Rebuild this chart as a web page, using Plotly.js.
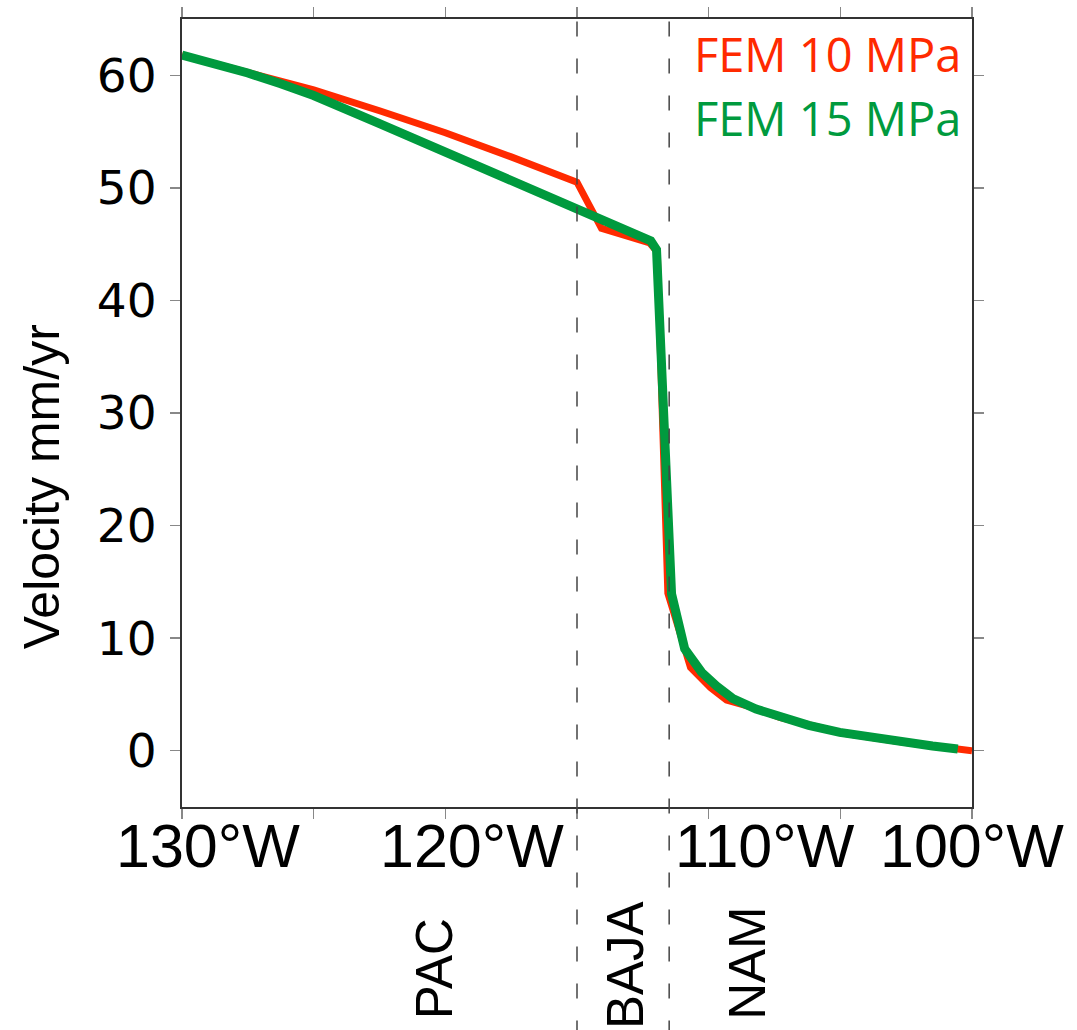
<!DOCTYPE html>
<html>
<head>
<meta charset="utf-8">
<script src="https://cdn.plot.ly/plotly-3.0.1.min.js"></script>
<style>html,body{margin:0;padding:0;background:#fff;}</style>
</head>
<body>
<div id="chart" style="width:1077px;height:1030px;"></div>
<script>
// Longitude (negative = west) and velocity (mm/yr)
const fem10Lon = [-130, -127.5, -125, -122.5, -120, -117.5, -115, -114.07, -112.24, -111.95, -111.55, -110.69, -109.93, -109.32, -108.2, -107.3, -105.0, -102.6, -100.5, -100];
const fem10Vel = [61.8, 60.3, 58.7, 56.85, 54.9, 52.75, 50.5, 46.4, 45.1, 44.3, 14.0, 7.4, 5.6, 4.5, 3.75, 2.95, 1.6, 0.75, 0.12, 0.0];

const fem15Lon = [-130, -128.75, -127.5, -126.25, -125, -122.5, -120, -117.5, -115, -112.6, -112.2, -111.98, -111.41, -110.91, -110.27, -109.7, -109.08, -108.2, -107.3, -106.2, -105.02, -103.8, -102.63, -101.5, -100.54];
const fem15Vel = [61.8, 61.05, 60.2, 59.25, 58.2, 55.7, 53.2, 50.7, 48.15, 45.8, 45.3, 44.5, 13.94, 9.05, 6.97, 5.75, 4.63, 3.7, 2.96, 2.25, 1.63, 1.15, 0.74, 0.42, 0.15];

const xTickVals = [-130, -125, -120, -115, -110, -105, -100];
const xLabelText = ["130°W", "120°W", "110°W", "100°W"];
const yTickVals = [0, 10, 20, 30, 40, 50, 60];

const boundaryLon = [-115, -111.5];
const plateNames = ["PAC", "BAJA", "NAM"];
const plateLon = [-120.4, -113.15, -108.55];

const seriesNames = ["FEM 10 MPa", "FEM 15 MPa"];
const seriesColors = ["#ff2a00", "#009a3e"];

const traces = [
  {x: fem10Lon, y: fem10Vel, mode: "lines", name: seriesNames[0],
   line: {color: seriesColors[0], width: 7}, hoverinfo: "skip"},
  {x: fem15Lon, y: fem15Vel, mode: "lines", name: seriesNames[1],
   line: {color: seriesColors[1], width: 9}, hoverinfo: "skip"}
];

const shapes = boundaryLon.map(lon => ({
  type: "line", xref: "x", yref: "paper", x0: lon, x1: lon, y0: -0.29, y1: 1.0,
  line: {color: "#444", width: 1.5, dash: "15px,22px"}, layer: "above"
}));

const annotations = [
  {text: seriesNames[0], xref: "paper", yref: "paper", x: 0.9886, y: 0.956,
   xanchor: "right", yanchor: "middle", showarrow: false,
   font: {family: "Open Sans", size: 47, color: seriesColors[0]}},
  {text: seriesNames[1], xref: "paper", yref: "paper", x: 0.9886, y: 0.874,
   xanchor: "right", yanchor: "middle", showarrow: false,
   font: {family: "Open Sans", size: 47, color: seriesColors[1]}},
  {text: "Velocity mm/yr", xref: "paper", yref: "paper", x: -0.177, y: 0.406,
   xanchor: "center", yanchor: "middle", textangle: -90, showarrow: false,
   font: {family: "Liberation Sans", size: 50, color: "#000"}}
];
// x-axis labels (placed like the original: number near its tick, degree+W appended)
const xLabelPos = [0.0325, 0.3668, 0.7378, 1.0004];
xLabelText.forEach((t, i) => annotations.push({
  text: t, xref: "paper", yref: "paper", x: xLabelPos[i], y: -0.0493,
  xanchor: "center", yanchor: "middle", showarrow: false,
  font: {family: "Liberation Sans", size: 61, color: "#000"}
}));
const plateY = [-0.2048, -0.201, -0.198];
plateNames.forEach((n, i) => annotations.push({
  text: n, xref: "x", yref: "paper", x: plateLon[i], y: plateY[i],
  xanchor: "center", yanchor: "middle", textangle: -90, showarrow: false,
  font: {family: "Liberation Sans", size: 51, color: "#000"}
}));

const layout = {
  width: 1077, height: 1030,
  margin: {l: 182, r: 105, t: 19, b: 223, pad: 0},
  paper_bgcolor: "#fff", plot_bgcolor: "#fff",
  showlegend: false,
  xaxis: {
    range: [-130, -100], tickmode: "array", tickvals: xTickVals, showticklabels: false,
    ticks: "outside", ticklen: 10, tickwidth: 1.5, tickcolor: "#888",
    showline: true, linecolor: "#333", linewidth: 2, mirror: "allticks",
    showgrid: false, zeroline: false
  },
  yaxis: {
    range: [-5, 65], tickmode: "array", tickvals: yTickVals,
    ticks: "outside", ticklen: 10, tickwidth: 1.5, tickcolor: "#888",
    showline: true, linecolor: "#333", linewidth: 2, mirror: "allticks",
    showgrid: false, zeroline: false, ticklabelstandoff: 4,
    tickfont: {family: "DejaVu Sans", size: 47, color: "#000"}
  },
  shapes: shapes,
  annotations: annotations
};

Plotly.newPlot("chart", traces, layout, {staticPlot: true});
</script>
</body>
</html>
